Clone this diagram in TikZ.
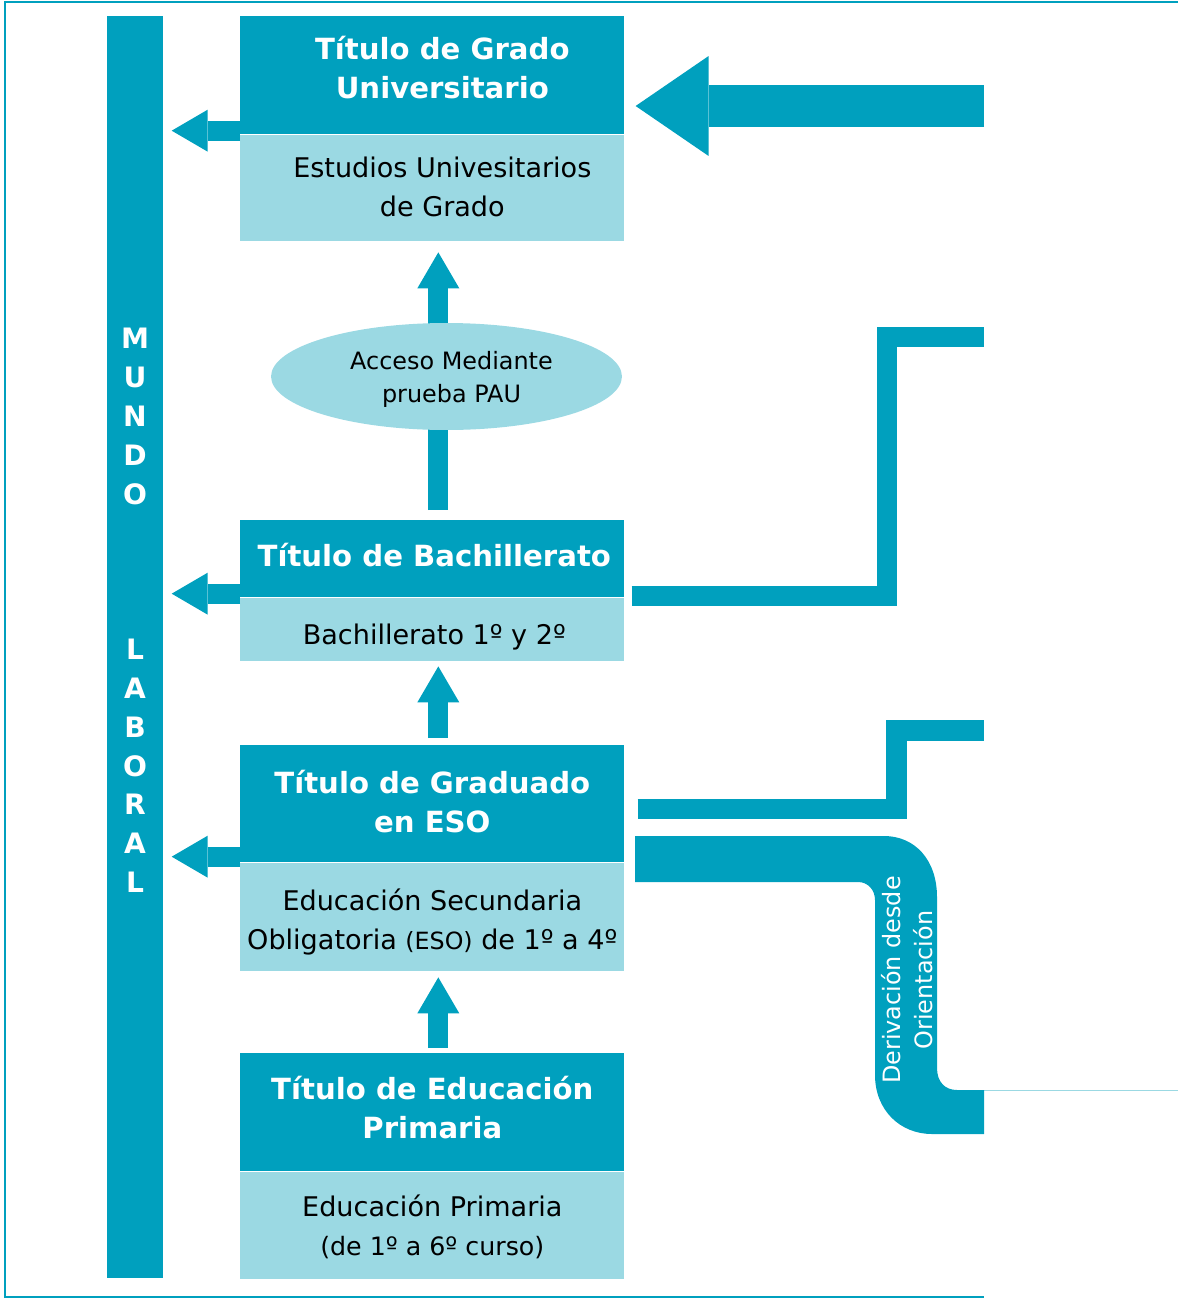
\documentclass[tikz,border=0pt]{standalone}
\usepackage{fontspec}
\setmainfont{DejaVu Sans}
\usetikzlibrary{arrows.meta,calc,positioning,shapes.geometric}
\definecolor{azul}{RGB}{0,160,190}
\definecolor{celeste}{RGB}{155,217,227}

\begin{document}
\begin{tikzpicture}[x=0.02cm,y=-0.02cm,
    titulo/.style={fill=azul,inner sep=0pt,anchor=north west,minimum width=7.68cm},
    estudio/.style={fill=celeste,inner sep=0pt,minimum width=7.68cm},
    titulotxt/.style={text=white,align=center,font=\fontsize{16.6}{22}\selectfont\bfseries},
    estudiotxt/.style={align=center,font=\fontsize{15.4}{22}\selectfont},
    flecha/.style={draw=azul,line width=0.4cm,
      -{Triangle[length=0.72cm,width=0.84cm,line width=0pt]}},
    banda/.style={draw=azul,line width=0.41cm}]
  \useasboundingbox (0,0) rectangle (1178,1298);

  % marco
  \draw[azul,line width=0.04cm] (1178,2) -- (5,2) -- (5,1297) -- (984,1297);
  \draw[celeste,line width=0.02cm] (957,1090) -- (1178,1090);

  % mundo laboral
  \node[fill=azul,inner sep=0pt,anchor=north west,minimum width=1.12cm,
    minimum height=25.24cm] (mundo) at (107,16) {};
  \node[text=white,align=center,font=\fontsize{16}{22.1}\selectfont\bfseries]
    (mundotxt) at (135,610.5)
    {M\\U\\N\\D\\O\\\mbox{}\\\mbox{}\\\mbox{}\\L\\A\\B\\O\\R\\A\\L};

  % cajas
  \node[titulo,minimum height=2.36cm] (grado) at (240,16) {};
  \node[estudio,minimum height=2.12cm,below=0pt of grado] (gradoest) {};
  \node[titulo,minimum height=1.54cm] (bach) at (240,520) {};
  \node[estudio,minimum height=1.26cm,below=0pt of bach] (bachest) {};
  \node[titulo,minimum height=2.34cm] (eso) at (240,745) {};
  \node[estudio,minimum height=2.16cm,below=0pt of eso] (esoest) {};
  \node[titulo,minimum height=2.36cm] (prim) at (240,1053) {};
  \node[estudio,minimum height=2.14cm,below=0pt of prim] (primest) {};

  \node[titulotxt] (gradotxt) at ($(grado)+(10,-8)$) {Título de Grado\\Universitario};
  \node[estudiotxt] (gradoesttxt) at ($(gradoest)+(10,-1)$) {Estudios Univesitarios\\de Grado};
  \node[titulotxt] (bachtxt) at ($(bach)+(2,-4)$) {Título de Bachillerato};
  \node[estudiotxt] (bachesttxt) at ($(bachest)+(2,7)$) {Bachillerato 1º y 2º};
  \node[titulotxt] (esotxt) at ($(eso)+(0,-2)$) {Título de Graduado\\en ESO};
  \node[estudiotxt] (esoesttxt) at ($(esoest)+(0,5)$)
    {Educación Secundaria\\Obligatoria {\fontsize{13.5}{22}\selectfont(ESO)} de 1º a 4º};
  \node[titulotxt] (primtxt) at ($(prim)+(0,-5)$) {Título de Educación\\Primaria};
  \node[estudiotxt] (primesttxt) at ($(primest)+(0,1)$)
    {Educación Primaria\\{\fontsize{14.4}{22}\selectfont(de 1º a 6º curso)}};

  % salidas al mundo laboral
  \draw[flecha] ($(grado.south west)+(0,-4)$) -- ($(mundo.east |- grado.south)+(8,-4)$);
  \draw[flecha] ($(bach.south west)+(0,-4)$) -- ($(mundo.east |- bach.south)+(8,-4)$);
  \draw[flecha] ($(eso.south west)+(0,-6)$) -- ($(mundo.east |- eso.south)+(8,-6)$);

  % subida entre niveles
  \draw[flecha] ($(bach.north)+(6,-10)$) -- ($(gradoest.south)+(6,11)$);
  \draw[flecha] ($(eso.north)+(6,-7)$) -- ($(bachest.south)+(6,5)$);
  \draw[flecha] ($(prim.north)+(6,-5)$) -- ($(esoest.south)+(6,6)$);
  \node[ellipse,fill=celeste,inner sep=0pt,minimum width=7.02cm,minimum height=2.14cm]
    (pau) at (446.5,376.5) {};
  \node[align=center,font=\fontsize{13.6}{18.7}\selectfont] (pautxt)
    at ($(pau)+(5,3)$) {Acceso Mediante\\prueba PAU};

  % entradas por la derecha
  \coordinate (univ) at (984,106);
  \draw[draw=azul,line width=0.86cm,
    -{Triangle[length=1.46cm,width=2cm,line width=0pt]}]
    (univ) -- ($(grado.east |- univ)+(11,0)$);
  \draw[banda,line width=0.4cm] ($(bachest.north east)+(7,-2)$) -| (886.5,337) -- (984,337);
  \draw[banda] ($(esoest.north east)+(13,-53.5)$) -| (896.5,730.5) -- (984,730.5);

  % derivacion
  \fill[azul] (635,836) -- (884,836) .. controls (915,836) and (937,860) .. (937,897)
    -- (937,1068) .. controls (937,1082) and (945,1090) .. (957,1090) -- (984,1090)
    -- (984,1134) -- (932,1134) .. controls (900,1134) and (875,1110) .. (875,1075)
    -- (875,900) .. controls (875,890) and (868,882) .. (858,882) -- (635,882) -- cycle;
  \node[rotate=90,text=white,align=center,font=\fontsize{13.6}{18}\selectfont]
    (deriv) at (907,980) {Derivación desde\\Orientación};
\end{tikzpicture}
\end{document}
